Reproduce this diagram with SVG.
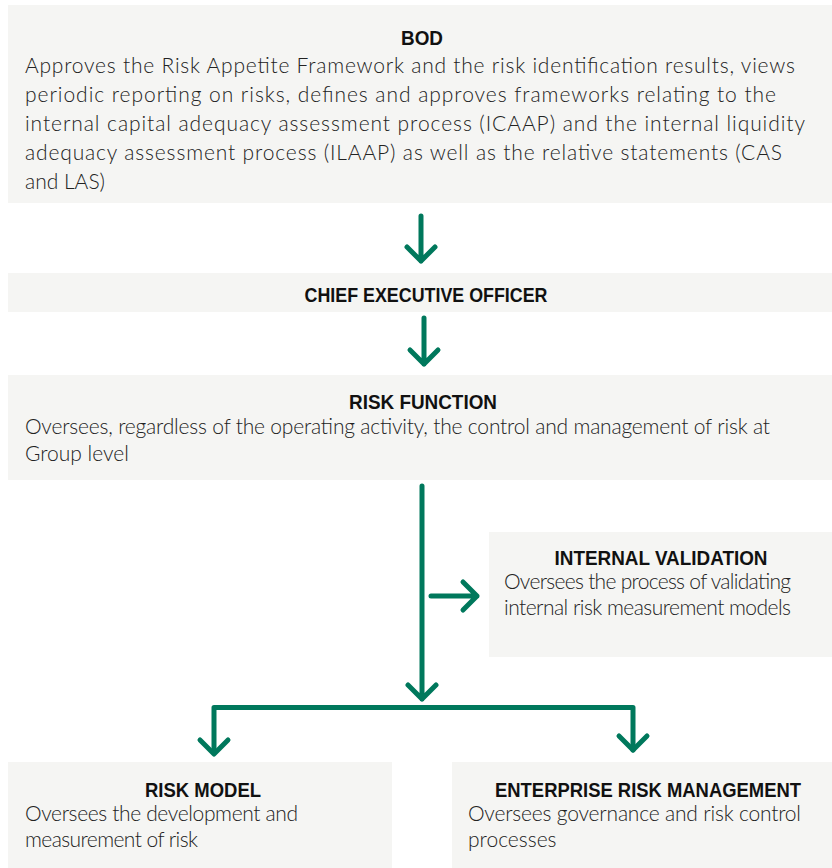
<svg xmlns="http://www.w3.org/2000/svg" width="832" height="868" viewBox="0 0 832 868">
<defs>
<style>
.box{fill:#f5f5f3}
.h{font-family:"Liberation Sans Narrow","Liberation Sans",Arial,sans-serif;font-weight:bold;font-size:21px;fill:#111;text-anchor:middle}
.b{font-family:Lato,"Liberation Sans",Arial,sans-serif;font-weight:300;font-size:21px;fill:#222}
.c{fill:none;stroke:#00785c;stroke-width:5;stroke-linecap:round;stroke-linejoin:round}
</style>
</defs>
<rect width="832" height="868" fill="#fff"/>
<g id="bod">
<rect class="box" x="8" y="5" width="824" height="198"/>
<text class="h" x="422" y="45" textLength="42" lengthAdjust="spacingAndGlyphs">BOD</text>
<text class="b" x="25" y="73" textLength="770" lengthAdjust="spacing">Approves the Risk Appetite Framework and the risk identification results, views</text>
<text class="b" x="25" y="102" textLength="751" lengthAdjust="spacing">periodic reporting on risks, defines and approves frameworks relating to the</text>
<text class="b" x="25" y="131" textLength="780" lengthAdjust="spacing">internal capital adequacy assessment process (ICAAP) and the internal liquidity</text>
<text class="b" x="25" y="160" textLength="757" lengthAdjust="spacing">adequacy assessment process (ILAAP) as well as the relative statements (CAS</text>
<text class="b" x="25" y="189">and LAS)</text>
</g>
<g id="ceo">
<rect class="box" x="8" y="273" width="824" height="39"/>
<text class="h" x="426" y="302" textLength="243" lengthAdjust="spacingAndGlyphs">CHIEF EXECUTIVE OFFICER</text>
</g>
<g id="risk-function">
<rect class="box" x="8" y="375" width="824" height="105"/>
<text class="h" x="423" y="409" textLength="148" lengthAdjust="spacingAndGlyphs">RISK FUNCTION</text>
<text class="b" x="25" y="434" textLength="745" lengthAdjust="spacing">Oversees, regardless of the operating activity, the control and management of risk at</text>
<text class="b" x="25" y="461">Group level</text>
</g>
<g id="internal-validation">
<rect class="box" x="489" y="532" width="343" height="125"/>
<text class="h" x="661" y="565" textLength="213" lengthAdjust="spacingAndGlyphs">INTERNAL VALIDATION</text>
<text class="b" x="504" y="589" textLength="287" lengthAdjust="spacing">Oversees the process of validating</text>
<text class="b" x="504" y="615" textLength="287" lengthAdjust="spacing">internal risk measurement models</text>
</g>
<g id="risk-model">
<rect class="box" x="8" y="762" width="384" height="106"/>
<text class="h" x="203" y="797" textLength="116" lengthAdjust="spacingAndGlyphs">RISK MODEL</text>
<text class="b" x="25" y="821" textLength="273" lengthAdjust="spacing">Oversees the development and</text>
<text class="b" x="25" y="847" textLength="173" lengthAdjust="spacing">measurement of risk</text>
</g>
<g id="erm">
<rect class="box" x="452" y="762" width="380" height="106"/>
<text class="h" x="648" y="797" textLength="306" lengthAdjust="spacingAndGlyphs">ENTERPRISE RISK MANAGEMENT</text>
<text class="b" x="468" y="821" textLength="333" lengthAdjust="spacing">Oversees governance and risk control</text>
<text class="b" x="468" y="847">processes</text>
</g>
<g id="connectors">
<path class="c" d="M421 216V261M407 247L421 261L435 247"/>
<path class="c" d="M424 318V364M410 350L424 364L438 350"/>
<path class="c" d="M422 486V699M408 685L422 699L436 685"/>
<path class="c" d="M431 596H477M463 582L477 596L463 610"/>
<path class="c" d="M214 752V707.5H633V750"/>
<path class="c" d="M200 740L214 754L228 740"/>
<path class="c" d="M619 736L633 750L647 736"/>
</g>
</svg>
